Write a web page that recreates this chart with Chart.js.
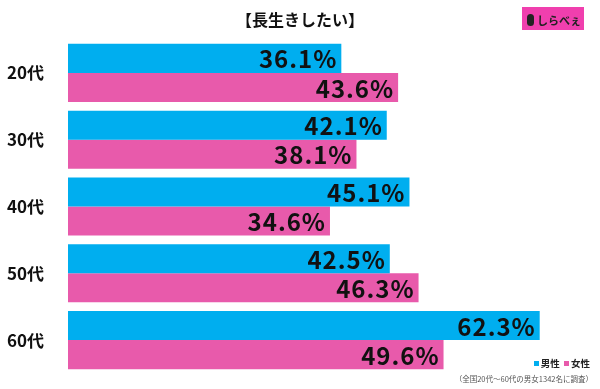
<!DOCTYPE html>
<html>
<head>
<meta charset="utf-8">
<script src="https://cdn.jsdelivr.net/npm/chart.js@4.4.1/dist/chart.umd.min.js"></script>
<style>
  body { margin: 0; background: #fff; font-family: "Noto Sans CJK JP", sans-serif; }
  #wrap { position: relative; width: 600px; height: 389px; }
  #title { position: absolute; left: 0; width: 600px; top: 7px; text-align: center; font-size: 16px; font-weight: bold; color: #111; line-height: 24px; }
  #logo { position: absolute; left: 522px; top: 7px; width: 62px; height: 23px; background: #f03fae; overflow: hidden; }
  #logo .txt { position: absolute; left: 15px; top: 5px; font-size: 11px; font-weight: bold; color: #222; line-height: 17px; white-space: nowrap; }
  #logo .fig { position: absolute; left: 5px; top: 7px; width: 7px; height: 12px; border-radius: 4px; background: #222; }
  #legend { position: absolute; right: 10px; top: 356px; font-size: 9.5px; font-weight: bold; color: #222; white-space: nowrap; }
  #legend span.sq { display: inline-block; width: 5px; height: 5px; margin-right: 2px; vertical-align: 1px; }
  #note { position: absolute; right: 7px; top: 373px; font-size: 7.5px; color: #555; white-space: nowrap; }
  canvas { position: absolute; left: 0; top: 0; }
</style>
</head>
<body>
<div id="wrap">
  <canvas id="c" width="600" height="389"></canvas>
  <div id="title">【長生きしたい】</div>
  <div id="logo"><span class="fig"></span><span class="txt">しらべぇ</span></div>
  <div id="legend"><span class="sq" style="background:#00aeef"></span>男性 &nbsp;<span class="sq" style="background:#e85aab"></span>女性</div>
  <div id="note">（全国20代～60代の男女1342名に調査）</div>
</div>
<script>
// data
var ages = ["20代", "30代", "40代", "50代", "60代"];
var male = [36.1, 42.1, 45.1, 42.5, 62.3];
var female = [43.6, 38.1, 34.6, 46.3, 49.6];

// draw value labels at the end of each bar
var valueLabels = {
  id: "valueLabels",
  afterDatasetsDraw: function(chart) {
    var ctx = chart.ctx;
    ctx.save();
    ctx.font = "bold 24px 'Noto Sans CJK JP', sans-serif";
    ctx.letterSpacing = "1px";
    ctx.fillStyle = "#111";
    ctx.textAlign = "right";
    ctx.textBaseline = "middle";
    chart.data.datasets.forEach(function(ds, i) {
      chart.getDatasetMeta(i).data.forEach(function(bar, j) {
        ctx.fillText(ds.data[j].toFixed(1) + "%", bar.x - 4, bar.y + 1);
      });
    });
    ctx.restore();
  }
};

new Chart(document.getElementById("c"), {
  type: "bar",
  data: {
    labels: ages,
    datasets: [
      { label: "男性", data: male, backgroundColor: "#00aeef" },
      { label: "女性", data: female, backgroundColor: "#e85aab" }
    ]
  },
  options: {
    indexAxis: "y",
    responsive: false,
    animation: false,
    layout: { padding: { top: 39.5, bottom: 15.5, left: 0, right: 2 } },
    datasets: { bar: { categoryPercentage: 0.87, barPercentage: 1 } },
    plugins: { legend: { display: false }, tooltip: { enabled: false } },
    scales: {
      x: { display: false, min: 0, max: 70 },
      y: {
        grid: { display: false },
        border: { display: false },
        ticks: { color: "#111", padding: 16, font: { size: 17, weight: "bold", family: "'Noto Sans CJK JP', sans-serif" } },
        afterFit: function(s) { s.width = 68; s.paddingTop = 0; s.paddingBottom = 0; }
      }
    }
  },
  plugins: [valueLabels]
});
</script>
</body>
</html>
